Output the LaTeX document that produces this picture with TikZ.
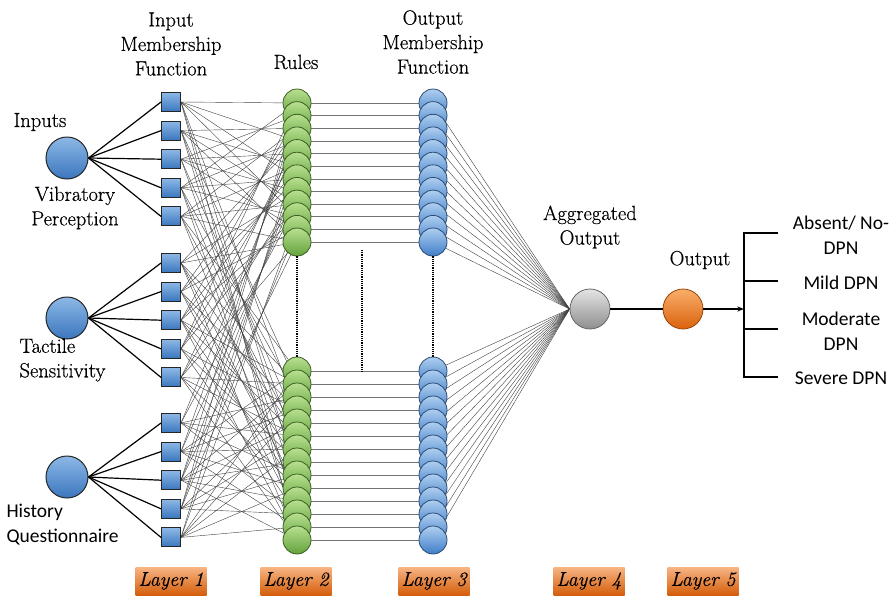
\documentclass[tikz,border=0pt]{standalone}
\usepackage{fontspec}
\newfontfamily\headserif{Latin Modern Roman}[FakeBold=0.5]
\newfontfamily\labelsans{Carlito}
\usepackage{tikz}
\usetikzlibrary{arrows.meta, backgrounds}
\definecolor{inlight}{HTML}{8DB8E6}
\definecolor{indark}{HTML}{3A76BE}
\definecolor{rulelight}{HTML}{B8E090}
\definecolor{ruledark}{HTML}{62A23C}
\definecolor{ruleedge}{HTML}{3C5E24}
\definecolor{omflight}{HTML}{AFCFF0}
\definecolor{omfdark}{HTML}{3F7DC8}
\definecolor{omfedge}{HTML}{2C4B72}
\definecolor{agglight}{HTML}{E4E4E4}
\definecolor{aggdark}{HTML}{8E8E8E}
\definecolor{outlight}{HTML}{F9AE6A}
\definecolor{outdark}{HTML}{DA620C}
\definecolor{layerlight}{HTML}{F8B584}
\definecolor{layerdark}{HTML}{D45E0C}
\tikzset{
  inputnode/.style={circle, draw=black!85, line width=1pt, top color=inlight, bottom color=indark, minimum size=42pt, inner sep=0pt},
  mfnode/.style={rectangle, draw=black!85, line width=1pt, top color=inlight, bottom color=indark, minimum size=19pt, inner sep=0pt},
  rulenode/.style={circle, draw=ruleedge, line width=0.8pt, top color=rulelight, bottom color=ruledark, minimum size=28pt, inner sep=0pt},
  omfnode/.style={circle, draw=omfedge, line width=0.8pt, top color=omflight, bottom color=omfdark, minimum size=28pt, inner sep=0pt},
  aggnode/.style={circle, draw=black!60, line width=0.8pt, top color=agglight, bottom color=aggdark, minimum size=40pt, inner sep=0pt},
  outnode/.style={circle, draw=outdark!70!black, line width=0.8pt, top color=outlight, bottom color=outdark, minimum size=40pt, inner sep=0pt},
  layerbox/.style={top color=layerlight, bottom color=layerdark, minimum width=71pt, minimum height=28pt, inner sep=0pt, font=\headserif\itshape\fontsize{20}{20}\selectfont},
  heading/.style={align=center, font=\headserif\fontsize{20.5}{24.5}\selectfont},
  classlabel/.style={align=center, font=\labelsans\fontsize{19.5}{25}\selectfont},
  boldlink/.style={line width=1.2pt},
  wire/.style={line width=0.4pt, black!75},
  flatwire/.style={line width=0.6pt, black!55},
  arrow/.style={-{Stealth[scale=0.8]}}
}

\begin{document}
\begin{tikzpicture}[x=1pt, y=-1pt]
  \useasboundingbox (0,0) rectangle (891,595);
  % inputs and membership functions
  \foreach \g/\y in {1/158,2/318,3/477} \node[inputnode] (in\g) at (67,\y) {};
  \foreach \g/\y in {1/102,2/263,3/423}
    \foreach \k in {0,...,4} \node[mfnode] (sq\g\k) at (171,\y+28.6*\k) {};
  % rules and output membership functions
  \foreach \j in {1,...,12} {
    \node[rulenode] (ru\j) at (297,{103+(\j-1)*12.64}) {};
    \node[omfnode] (ou\j) at (433,{103+(\j-1)*12.64}) {};
  }
  \foreach \j in {1,...,14} {
    \node[rulenode] (rl\j) at (297,{371+(\j-1)*13}) {};
    \node[omfnode] (ol\j) at (433,{371+(\j-1)*13}) {};
  }
  \node[aggnode] (agg) at (590,309) {};
  \node[outnode] (outn) at (683,309) {};

  \begin{pgfonlayer}{background}
    \foreach \g in {1,2,3} \foreach \k in {0,...,4} {
      \foreach \j in {1,...,12} {
        \pgfmathtruncatemacro\hit{mod(\j+\k+2*\g,\g+2)==0}
        \ifnum\hit=1 \draw[wire] (sq\g\k.east) -- (ru\j); \fi
      }
      \foreach \j in {1,...,14} {
        \pgfmathtruncatemacro\hit{mod(\j+2*\k+\g,6-\g)==0}
        \ifnum\hit=1 \draw[wire] (sq\g\k.east) -- (rl\j); \fi
      }
    }
    \foreach \j in {1,...,12} {
      \draw[flatwire] (ru\j) -- (ou\j);
      \draw[wire] (ou\j) -- (agg.west);
    }
    \foreach \j in {1,...,14} {
      \draw[flatwire] (rl\j) -- (ol\j);
      \draw[wire] (ol\j) -- (agg.west);
    }
  \end{pgfonlayer}

  \foreach \g in {1,2,3} \foreach \k in {0,...,4}
    \draw[boldlink] (in\g.east) -- (sq\g\k.west);

  % dotted gaps
  \coordinate (gaptop) at (362,250);
  \coordinate (gapbot) at (362,373);
  \draw[densely dotted, line width=1.2pt] (ru12.south) -- (rl1.north);
  \draw[densely dotted, line width=1.2pt] (ou12.south) -- (ol1.north);
  \draw[densely dotted, line width=1.2pt] (gaptop) -- (gapbot);

  % output and classes
  \coordinate (brk) at (744,309);
  \draw[boldlink] (agg) -- (outn);
  \draw[boldlink, arrow] (outn.east) -- (brk);
  \foreach \c/\y in {1/233,2/281,3/329,4/377} \coordinate (cls\c) at (778,\y);
  \draw[boldlink] (cls1) -- (744,233) -- (744,377) -- (cls4);
  \draw[boldlink] (744,281) -- (cls2);
  \draw[boldlink] (744,329) -- (cls3);
  \node[classlabel] (abs) at (841,235) {Absent/ No-\\DPN};
  \node[classlabel] (mild) at (841,283) {Mild DPN};
  \node[classlabel] (mod) at (841,331) {Moderate\\DPN};
  \node[classlabel] (sev) at (841,378) {Severe DPN};

  % headings
  \node[heading] (imf) at (171,44) {Input\\Membership\\Function};
  \node[heading] (rules) at (296,62) {Rules};
  \node[heading] (omf) at (433,42) {Output\\Membership\\Function};
  \node[heading] (inputs) at (40,122) {Inputs};
  \node[heading] (vib) at (75,208) {Vibratory\\Perception};
  \node[heading, anchor=west, align=left] (tac) at (16,360) {Tactile\\Sensitivity};
  \node[classlabel, anchor=west, align=left] (hist) at (3,525) {History\\Questionnaire};
  \node[heading] (aggl) at (590,227) {Aggregated\\Output};
  \node[heading] (outl) at (700,260) {Output};

  % layers
  \foreach \n/\x in {1/171,2/296,3/434,4/589,5/703}
    \node[layerbox] (layer\n) at (\x,581) {Layer \n};
\end{tikzpicture}
\end{document}
